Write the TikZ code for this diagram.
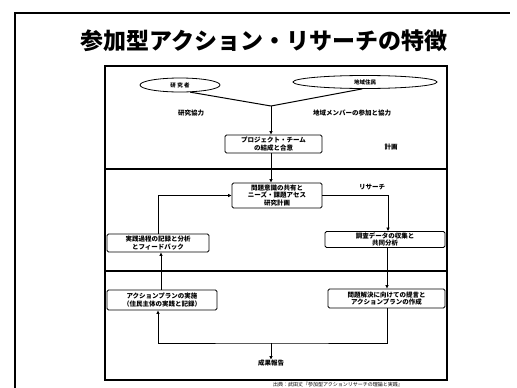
\documentclass[tikz,border=0pt]{standalone}
\usepackage{fontspec}
\newfontfamily\cjk{Noto Sans CJK JP}
\usetikzlibrary{shapes.geometric,arrows.meta,calc}
\tikzset{
  frame/.style={line width=1.1pt},
  boxnode/.style={draw,line width=0.8pt,rounded corners=1.5pt,inner sep=1pt,align=center,font=\cjk\bfseries\fontsize{6.5}{7.6}\selectfont},
  ellnode/.style={draw,ellipse,line width=0.8pt,inner sep=0pt,font=\cjk\bfseries\fontsize{5.5}{6}\selectfont},
  lbl/.style={font=\cjk\bfseries\fontsize{6.5}{7}\selectfont,inner sep=0pt},
  conn/.style={line width=1pt},
  arr/.style={line width=1pt,-{Latex[length=3.5pt,width=3.5pt]}}
}
\begin{document}
\begin{tikzpicture}[x=1pt,y=-1pt]
\useasboundingbox (0,0) rectangle (517,388);
% outer slide frame (cropped)
\draw[line width=1.6pt] (15,388) -- (15,13) -- (510,13);
% title
\node[font=\cjk\bfseries\fontsize{23}{25}\selectfont,inner sep=0pt] (title) at (264,41) {参加型アクション・リサーチの特徴};
% inner frame
\draw[frame] (105,66) rectangle (447,380);
\draw[frame] (105,169) -- (447,169);
\draw[frame] (105,271) -- (447,271);
% ellipses
\node[ellnode,minimum width=80,minimum height=14] (ellL) at (180,85) {研 究 者};
\node[ellnode,minimum width=144,minimum height=13] (ellR) at (365,82) {地域住民};
\coordinate (J1) at (271,106);
% labels
\node[lbl] (t1) at (191,113) {研究協力};
\node[lbl] (t2) at (352,113) {地域メンバーの参加と協力};
\node[lbl] (t3) at (391,147) {計画};
\node[lbl] (t4) at (372,187) {リサーチ};
% boxes
\node[boxnode,minimum width=97,minimum height=18] (b1) at (273.5,144) {プロジェクト・チーム\\の結成と合意};
\node[boxnode,minimum width=90,minimum height=25] (b2) at (277,195.5) {問題意識の共有と\\ニーズ・課題アセス\\研究計画};
\node[boxnode,minimum width=102,minimum height=18] (b3L) at (158,243) {実践過程の記録と分析\\とフィードバック};
\node[boxnode,minimum width=110,minimum height=20] (b4L) at (162,300) {アクションプランの実施\\（住民主体の実践と記録）};
\node[boxnode,minimum width=120,minimum height=15] (b3R) at (385,239.5) {調査データの収集と\\共同分析};
\node[boxnode,minimum width=117,minimum height=19] (b4R) at (386.5,298.5) {問題解決に向けての提言と\\アクションプランの作成};
\node[lbl] (end) at (271,363) {成果報告};
\coordinate (J2) at (271,343);
% connectors
\draw[conn] (ellL.-35) -- (J1);
\draw[conn] (ellR.-112) -- (J1);
\draw[arr] (J1) -- (J1 |- b1.north);
\draw[arr] (J1 |- b1.south) -- (J1 |- b2.north);
\draw[arr] (b3L.north) |- (b2.west);
\draw[arr] (b2.east) -| ([xshift=3pt]b3R.north);
\draw[arr] ([xshift=3pt]b3L.south |- b4L.north) -- ([xshift=3pt]b3L.south);
\draw[arr] ([xshift=2pt]b3R.south) -- ([xshift=2pt]b3R.south |- b4R.north);
\draw[arr] ([xshift=1pt]b4R.south) |- (J2) -| ([xshift=-4pt]b4L.south);
\draw[arr] (J2) -- (end.north);
% footer
\node[font=\cjk\fontsize{5}{6}\selectfont,inner sep=0pt,anchor=west] (foot) at (273,385) {出典：武田丈『参加型アクションリサーチの理論と実践』};
\end{tikzpicture}
\end{document}
